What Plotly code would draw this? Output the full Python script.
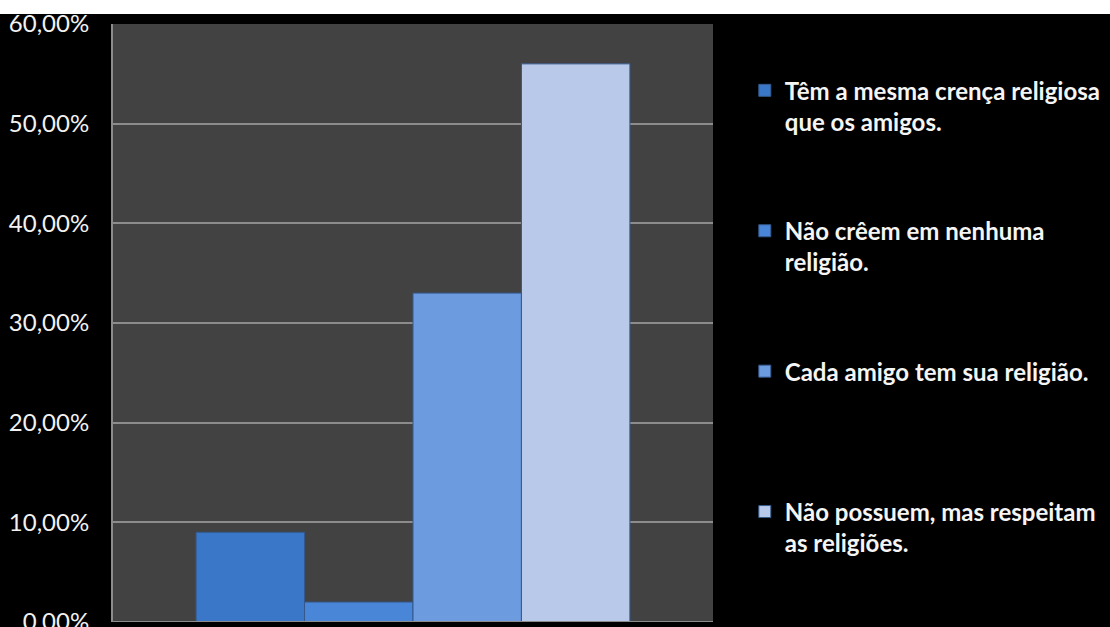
import plotly.graph_objects as go

# Survey answers about friends and religion (share of respondents)
categories = [
    "Têm a mesma crença religiosa<br>que os amigos.",
    "Não crêem em nenhuma<br>religião.",
    "Cada amigo tem sua religião.<br> ",
    "Não possuem, mas respeitam<br>as religiões.",
]
shares = [0.09, 0.02, 0.33, 0.56]
bar_colors = ["#3a77c9", "#4a86d8", "#6d9be0", "#b9c9ea"]
y_ticks = [0, 0.1, 0.2, 0.3, 0.4, 0.5, 0.6]

fig = go.Figure()
for i, (name, val, col) in enumerate(zip(categories, shares, bar_colors)):
    fig.add_trace(go.Bar(
        x=[""], y=[val], name=name,
        marker=dict(color=col, line=dict(color="#35598c", width=1)),
        legendgroup=f"g{i}",
    ))

fig.update_layout(
    width=1110, height=627,
    margin=dict(l=113, r=397, t=24, b=5, autoexpand=False),
    paper_bgcolor="#000000",
    plot_bgcolor="#424242",
    separators=",.",
    barmode="group",
    bargap=0.277,
    bargroupgap=0,
    font=dict(family="Lato", color="#f2f2f2", size=20),
    showlegend=True,
    legend=dict(
        x=1.053, y=0.926, xanchor="left", yanchor="top",
        bgcolor="rgba(0,0,0,0)",
        font=dict(family="Lato", size=24, color="#f5f5f5", weight="bold"),
        tracegroupgap=75,
        valign="top",
        itemwidth=30,
    ),
    xaxis=dict(showticklabels=False, showgrid=False, zeroline=False,
               showline=False, fixedrange=True, automargin=False),
    yaxis=dict(
        range=[0, 0.6], tickvals=y_ticks, tickformat=".2%",
        showgrid=True, gridcolor="#8c8c8c", gridwidth=1.5,
        zeroline=False, showline=True, linecolor="#8c8c8c", linewidth=2,
        ticks="", ticklabelstandoff=17, ticklabeloverflow="allow",
        automargin=False,
        tickfont=dict(family="Lato", size=24, color="#f2f2f2"),
    ),
    shapes=[
        # strip along the top edge of the image
        dict(type="rect", xref="paper", yref="paper",
             x0=-0.3, x1=1.7, y0=1 + 10 / 598, y1=1.1,
             fillcolor="#ffffff", line=dict(width=0), layer="above"),
        # baseline at 0%
        dict(type="line", xref="paper", yref="y", x0=0, x1=1, y0=0, y1=0,
             line=dict(color="#8c8c8c", width=2)),
    ],
)

fig.write_html("out.html")
